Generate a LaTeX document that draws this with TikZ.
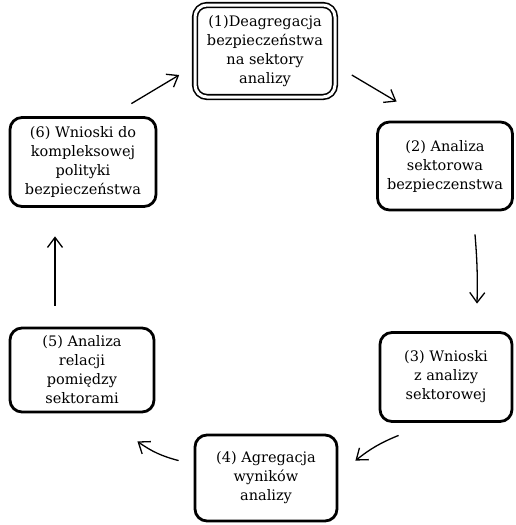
\documentclass[tikz,border=0pt]{standalone}
\usepackage{fontspec}
\setmainfont{DejaVu Serif}
\usetikzlibrary{arrows.meta}

\begin{document}
\begin{tikzpicture}[x=1pt,y=-1pt,
    stage/.style={draw,line width=2.8pt,rounded corners=12pt,align=center,
      inner sep=2pt,font=\fontsize{14.5}{19}\selectfont},
    flow/.style={line width=1.3pt,-{Straight Barb[length=10pt,width=15pt,line width=1.3pt]}}]
  \useasboundingbox (0,0) rectangle (515,525);
  \node[stage,double,line width=1.6pt,double distance=3pt,minimum width=140,minimum height=92] (n1) at (265,51) {(1)Deagregacja\\bezpieczeństwa\\na sektory\\analizy};
  \node[stage,minimum width=135,minimum height=88] (n2) at (445,166) {(2) Analiza\\sektorowa\\bezpieczenstwa};
  \node[stage,minimum width=132,minimum height=89] (n3) at (446,377) {(3) Wnioski\\z analizy\\sektorowej};
  \node[stage,minimum width=142,minimum height=86] (n4) at (266,478) {(4) Agregacja\\wyników\\analizy};
  \node[stage,minimum width=144,minimum height=84] (n5) at (82,370) {(5) Analiza\\relacji\\pomiędzy\\sektorami};
  \node[stage,minimum width=146,minimum height=89] (n6) at (83,162) {(6) Wnioski do\\kompleksowej\\polityki\\bezpieczeństwa};
  \draw[flow] ([shift={(-26,-12.5)}]n6.north east) -- ([shift={(-15,24)}]n1.west);
  \draw[flow] ([shift={(16,24)}]n1.east) -- ([shift={(20.5,-19)}]n2.north west);
  \draw[flow] ([shift={(30,23)}]n2.south) to[bend left=3] ([shift={(31,-27.5)}]n3.north);
  \draw[flow] ([shift={(20,12.5)}]n3.south west) to[bend right=8] ([shift={(17,27)}]n4.north east);
  \draw[flow] ([shift={(-15,27)}]n4.north west) to[bend left=10] ([shift={(-18,28)}]n5.south east);
  \draw[flow] ([shift={(-27,-21)}]n5.north) -- ([shift={(-28,28.5)}]n6.south);
\end{tikzpicture}
\end{document}
